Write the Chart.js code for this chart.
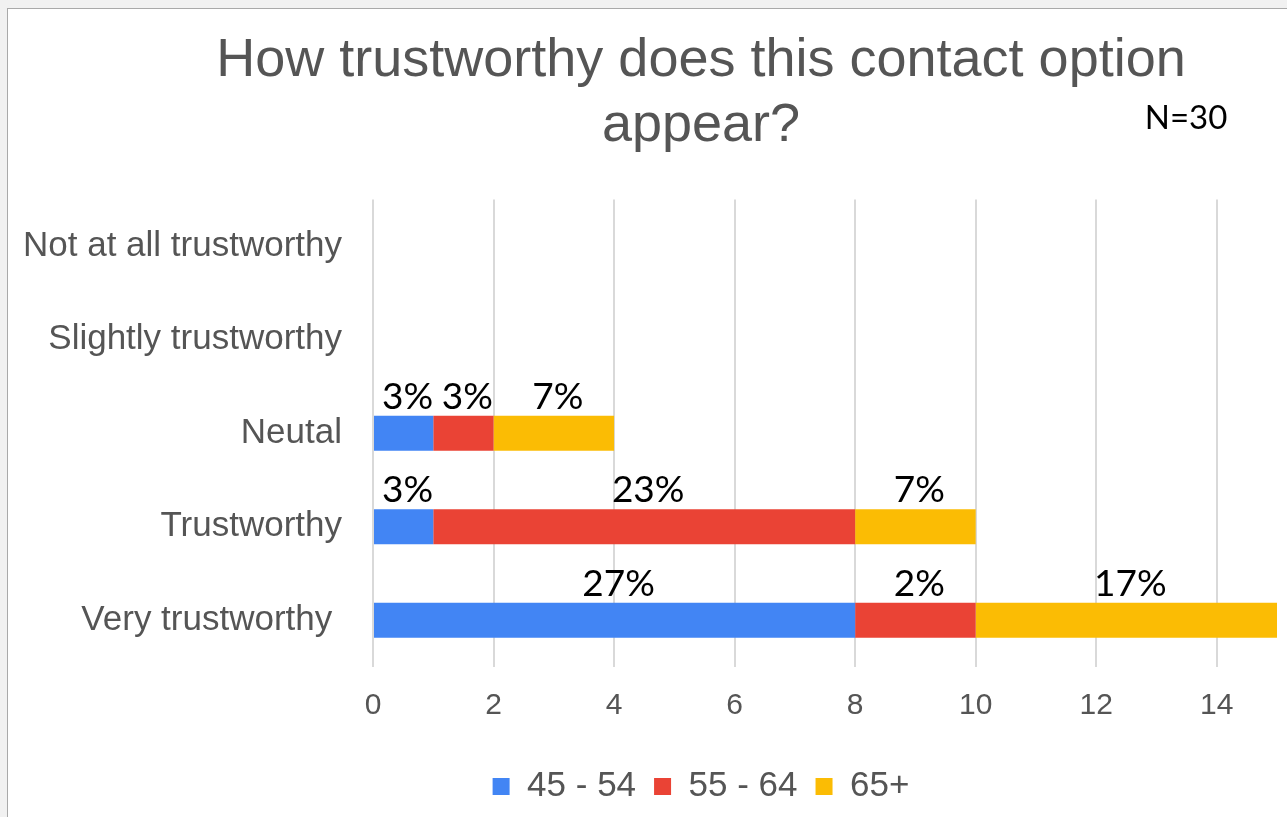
<!DOCTYPE html>
<html>
<head>
<meta charset="utf-8">
<script src="https://cdn.jsdelivr.net/npm/chart.js@4"></script>
<style>
  html, body { margin: 0; padding: 0; background: #f1f1f1; overflow: hidden; }
  #card { position: absolute; left: 7px; top: 8px; width: 1400px; height: 900px; background: #fff; border: 1px solid #a9a9a9; }
  #chart { position: absolute; left: 0; top: 0; }
</style>
</head>
<body>
<div id="card"></div>
<canvas id="chart" width="1287" height="817"></canvas>
<script>
// answers (top to bottom)
const categories = ["Not at all trustworthy", "Slightly trustworthy", "Neutal", "Trustworthy", "Very trustworthy "];
const seriesNames = ["45 - 54", "55 - 64", "65+"];
const colors = ["#4285F4", "#EA4335", "#FBBC04"];

// counts per age group
const age45 = [0, 0, 1, 1, 8];
const age55 = [0, 0, 1, 7, 2];
const age65 = [0, 0, 2, 2, 5];

// percent labels shown above each segment
const pct45 = ["", "", "3%", "3%", "27%"];
const pct55 = ["", "", "3%", "23%", "2%"];
const pct65 = ["", "", "7%", "7%", "17%"];

const xTicks = [0, 2, 4, 6, 8, 10, 12, 14];

const titleLines = ["How trustworthy does this contact option", "appear?"];
const note = "N=30";

const gray = "#555555";
const labelFont = "Lato, 'Noto Sans', sans-serif";

// draws the % labels above the bar segments and the N note
const extraText = {
  id: "extraText",
  afterDatasetsDraw(chart) {
    const ctx = chart.ctx;
    const all = [pct45, pct55, pct65];
    ctx.save();
    ctx.fillStyle = "#000";
    ctx.font = "37px " + labelFont;
    ctx.textAlign = "center";
    ctx.textBaseline = "alphabetic";
    all.forEach((labels, i) => {
      const meta = chart.getDatasetMeta(i);
      meta.data.forEach((bar, j) => {
        if (!labels[j]) return;
        const p = bar.getProps(["x", "y", "base", "height"], true);
        ctx.fillText(labels[j], (p.x + p.base) / 2 + 4, p.y - p.height / 2 - 7);
      });
    });
    ctx.font = "33px " + labelFont;
    ctx.textBaseline = "middle";
    ctx.fillText(note, 1186, 118);
    ctx.restore();
  }
};

new Chart(document.getElementById("chart"), {
  type: "bar",
  data: {
    labels: categories,
    datasets: [
      { label: seriesNames[0], data: age45, backgroundColor: colors[0] },
      { label: seriesNames[1], data: age55, backgroundColor: colors[1] },
      { label: seriesNames[2], data: age65, backgroundColor: colors[2] }
    ]
  },
  options: {
    indexAxis: "y",
    responsive: false,
    animation: false,
    devicePixelRatio: 1,
    datasets: { bar: { barPercentage: 0.375, categoryPercentage: 1 } },
    layout: { padding: { left: 125, right: 10, top: 0, bottom: 3 } },
    scales: {
      x: {
        stacked: true,
        min: 0,
        max: 15,
        afterBuildTicks(scale) { scale.ticks = xTicks.map(v => ({ value: v })); },
        afterFit(scale) { scale.height = 84; },
        grid: { color: "#d9d9d9", lineWidth: 2, drawTicks: false },
        border: { display: false },
        ticks: { color: gray, padding: 21, font: { family: "'Liberation Sans', Arial", size: 30 } }
      },
      y: {
        stacked: true,
        afterFit(scale) {
          scale.width = 248;
          // long category names reach past the axis box, so don't clip them
          scale._computeLabelArea = () => null;
        },
        grid: { display: false, drawTicks: false },
        border: { display: false },
        ticks: { color: gray, padding: 31, font: { family: "'Liberation Sans', Arial", size: 35 } }
      }
    },
    plugins: {
      title: {
        display: true,
        text: titleLines,
        color: gray,
        font: { family: "'Liberation Sans', Arial", size: 54, weight: "normal", lineHeight: 1.2 },
        padding: { top: 29, bottom: 41 }
      },
      legend: {
        position: "bottom",
        labels: {
          color: gray,
          boxWidth: 17,
          boxHeight: 17,
          padding: 18,
          font: { family: "'Liberation Sans', Arial", size: 35 }
        }
      },
      tooltip: { enabled: false }
    }
  },
  plugins: [extraText]
});
</script>
</body>
</html>
